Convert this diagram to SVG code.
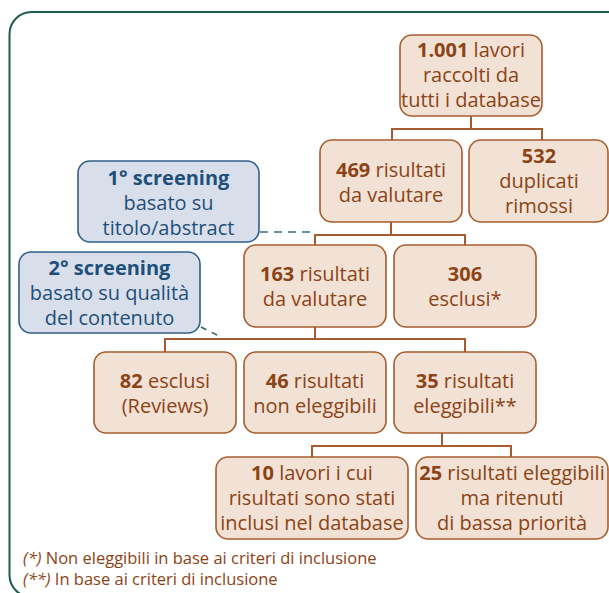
<svg xmlns="http://www.w3.org/2000/svg" width="609" height="593" viewBox="0 0 609 593">
<style>
.box{fill:#f2e2d6;stroke:#a65c2e;stroke-width:1.6}
.sbox{fill:#d9dfea;stroke:#2f5f88;stroke-width:1.6}
.t{font-family:"Open Sans","Liberation Sans",sans-serif;font-size:20px;fill:#8c4315;text-anchor:middle}
.s{font-family:"Open Sans","Liberation Sans",sans-serif;font-size:20px;fill:#1e4f7b;text-anchor:middle}
.b{font-weight:bold}
.c{fill:none;stroke:#a65c2e;stroke-width:2}
.d{fill:none;stroke:#3a6a88;stroke-width:1.6;stroke-dasharray:8 6}
.fn{font-family:"Open Sans","Liberation Sans",sans-serif;font-size:16.5px;fill:#8c4315}
</style>
<rect x="9.5" y="12" width="640" height="585" rx="22" fill="#fff" stroke="#1b5e45" stroke-width="2"/>
<g id="connectors">
<path class="c" d="M471,116V129M392,140V129H542V140"/>
<path class="c" d="M391,222V235M315,245V235H465V245"/>
<path class="c" d="M315,327V339M165,352V339H465V352"/>
<path class="c" d="M442,433V446M312,457V446H511V457"/>
<path class="d" d="M260,232H316"/>
<path class="d" d="M201,327L219,336" style="stroke:#2e6b5a;stroke-dasharray:6 6"/>
</g>
<g id="n1"><rect class="box" x="400" y="35" width="142" height="81" rx="12"/>
<text class="t" x="471" y="57"><tspan class="b">1.001</tspan> lavori</text>
<text class="t" x="471" y="82">raccolti da</text>
<text class="t" x="471" y="107">tutti i database</text></g>
<g id="n2"><rect class="box" x="320" y="140" width="142" height="82" rx="12"/>
<text class="t" x="391" y="177"><tspan class="b">469</tspan> risultati</text>
<text class="t" x="391" y="202">da valutare</text></g>
<g id="n3"><rect class="box" x="469" y="140" width="139" height="82" rx="12"/>
<text class="t" x="539" y="163"><tspan class="b">532</tspan></text>
<text class="t" x="539" y="188">duplicati</text>
<text class="t" x="539" y="213">rimossi</text></g>
<g id="n4"><rect class="box" x="244" y="245" width="142" height="82" rx="12"/>
<text class="t" x="315" y="281"><tspan class="b">163</tspan> risultati</text>
<text class="t" x="315" y="306">da valutare</text></g>
<g id="n5"><rect class="box" x="394" y="245" width="142" height="82" rx="12"/>
<text class="t" x="465" y="281"><tspan class="b">306</tspan></text>
<text class="t" x="465" y="306">esclusi*</text></g>
<g id="n6"><rect class="box" x="94" y="352" width="142" height="81" rx="12"/>
<text class="t" x="165" y="388"><tspan class="b">82</tspan> esclusi</text>
<text class="t" x="165" y="413">(Reviews)</text></g>
<g id="n7"><rect class="box" x="244" y="352" width="142" height="81" rx="12"/>
<text class="t" x="315" y="388"><tspan class="b">46</tspan> risultati</text>
<text class="t" x="315" y="413">non eleggibili</text></g>
<g id="n8"><rect class="box" x="394" y="352" width="142" height="81" rx="12"/>
<text class="t" x="465" y="388"><tspan class="b">35</tspan> risultati</text>
<text class="t" x="465" y="413">eleggibili**</text></g>
<g id="n9"><rect class="box" x="216" y="457" width="192" height="82" rx="12"/>
<text class="t" x="312" y="480"><tspan class="b">10</tspan> lavori i cui</text>
<text class="t" x="312" y="505">risultati sono stati</text>
<text class="t" x="312" y="530">inclusi nel database</text></g>
<g id="n10"><rect class="box" x="416" y="457" width="192" height="82" rx="12"/>
<text class="t" x="512" y="480"><tspan class="b">25</tspan> risultati eleggibili</text>
<text class="t" x="512" y="505">ma ritenuti</text>
<text class="t" x="512" y="530">di bassa priorità</text></g>
<g id="s1"><rect class="sbox" x="78" y="161" width="181" height="81" rx="12"/>
<text class="s b" x="168.5" y="185">1° screening</text>
<text class="s" x="168.5" y="210">basato su</text>
<text class="s" x="168.5" y="235">titolo/abstract</text></g>
<g id="s2"><rect class="sbox" x="19" y="252" width="181" height="81" rx="12"/>
<text class="s b" x="109.5" y="275">2° screening</text>
<text class="s" x="109.5" y="300">basato su qualità</text>
<text class="s" x="109.5" y="325">del contenuto</text></g>
<g id="footnotes">
<text class="fn" x="23" y="564"><tspan font-style="italic">(*)</tspan> Non eleggibili in base ai criteri di inclusione</text>
<text class="fn" x="23" y="585"><tspan font-style="italic">(**)</tspan> In base ai criteri di inclusione</text>
</g>
</svg>
